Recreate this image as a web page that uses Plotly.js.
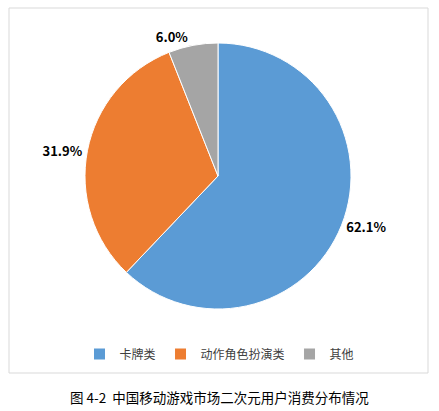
<!DOCTYPE html>
<html>
<head>
<meta charset="utf-8">
<script src="https://cdn.plot.ly/plotly-3.0.1.min.js"></script>
<style>
  html, body { margin: 0; padding: 0; background: #fff; }
  #chart { width: 439px; height: 411px; }
</style>
</head>
<body>
<div id="chart"></div>
<script>
// data
const categories = ["卡牌类", "动作角色扮演类", "其他"];
const shares = [62.1, 31.9, 6.0];
const sliceColors = ["#5B9BD5", "#ED7D31", "#A5A5A5"];
const caption = "图 4-2  中国移动游戏市场二次元用户消费分布情况";

const W = 439, H = 411;
const cjk = '"Microsoft YaHei", "Noto Sans CJK SC", sans-serif';

function px(x) { return x / W; }
function py(y) { return 1 - y / H; }

let data = [
    {
        type: "pie",
        labels: categories,
        values: shares,
        sort: false,
        direction: "clockwise",
        rotation: 0,
        marker: { colors: sliceColors, line: { color: "#fff", width: 1 } },
        textposition: "outside",
        texttemplate: "<b>%{value:.1f}%</b>",
        textfont: { family: cjk, size: 13, color: "#000" },
        hoverinfo: "label+percent",
        automargin: false,
        domain: { x: [px(85), px(351)], y: [py(309), py(43)] }
    }
];

let layout = {
    width: W,
    height: H,
    margin: { l: 0, r: 0, t: 0, b: 0 },
    paper_bgcolor: "#fff",
    showlegend: true,
    legend: {
        orientation: "h",
        x: 0.5,
        xanchor: "center",
        y: py(354),
        yanchor: "middle",
        font: { family: cjk, size: 12, color: "#404040" },
        itemwidth: 30,
        tracegroupgap: 0
    },
    shapes: [
        {
            type: "rect", xref: "paper", yref: "paper",
            x0: px(9), x1: px(428), y0: py(373), y1: py(8),
            line: { color: "#d9d9d9", width: 1 }
        }
    ],
    annotations: [
        {
            xref: "paper", yref: "paper",
            x: 0.5, y: py(397), xanchor: "center", yanchor: "middle",
            text: caption, showarrow: false,
            font: { family: cjk, size: 13.5, color: "#000" }
        }
    ]
};

Plotly.newPlot("chart", data, layout, { displayModeBar: false });
</script>
</body>
</html>
